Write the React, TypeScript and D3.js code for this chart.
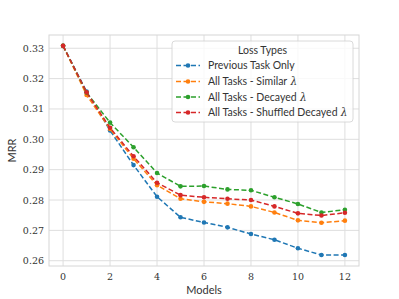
import React from "react";
import * as d3 from "d3";

const models = [0, 1, 2, 3, 4, 5, 6, 7, 8, 9, 10, 11, 12];
const previousTaskOnly = [0.3308, 0.3157, 0.3029, 0.2915, 0.2811, 0.2743, 0.2726, 0.2710, 0.2688, 0.2669, 0.2641, 0.2619, 0.2619];
const allSimilar = [0.3308, 0.3146, 0.3034, 0.2936, 0.2849, 0.2804, 0.2794, 0.2788, 0.2779, 0.2759, 0.2733, 0.2725, 0.2732];
const allDecayed = [0.3308, 0.3154, 0.3055, 0.2974, 0.2889, 0.2845, 0.2846, 0.2835, 0.2832, 0.2809, 0.2787, 0.2759, 0.2768];
const allShuffled = [0.3308, 0.3155, 0.3038, 0.2944, 0.2857, 0.2816, 0.2809, 0.2804, 0.2800, 0.2779, 0.2756, 0.2749, 0.2758];
const seriesNames = ["Previous Task Only", "All Tasks - Similar", "All Tasks - Decayed", "All Tasks - Shuffled Decayed"];
const seriesColors = ["#1f77b4", "#ff7f0e", "#2ca02c", "#d62728"];
const xTicks = [0, 2, 4, 6, 8, 10, 12];
const yTicks = [0.26, 0.27, 0.28, 0.29, 0.30, 0.31, 0.32, 0.33];

export default function App() {
  const W = 399, H = 299;
  const L = 49, R = 359, T = 35, B = 266;
  const x = d3.scaleLinear().domain([-0.6, 12.6]).range([L, R]);
  const y = d3.scaleLinear().domain([0.25826, 0.33437]).range([B, T]);
  const allSeries = [previousTaskOnly, allSimilar, allDecayed, allShuffled];
  const line = d3.line<number>().x((_, i) => x(models[i])).y((d) => y(d));
  const serif = "'DejaVu Serif', 'Liberation Serif', serif";
  const sans = "Lato, 'DejaVu Sans', sans-serif";
  const legX = 172, legY = 41, legW = 181, legH = 81;
  const entryY = [65.5, 81.5, 97, 112.5];
  return (
    <svg width={W} height={H} style={{ position: "absolute", left: 0, top: 0, background: "#fff" }}>
      <rect x={0} y={0} width={W} height={H} fill="#fff" />
      {xTicks.map((t) => (
        <line key={"gx" + t} x1={x(t)} x2={x(t)} y1={T} y2={B} stroke="#dedede" strokeWidth={1} />
      ))}
      {yTicks.map((t) => (
        <line key={"gy" + t} x1={L} x2={R} y1={y(t)} y2={y(t)} stroke="#dedede" strokeWidth={1} />
      ))}
      <rect x={L} y={T} width={R - L} height={B - T} fill="none" stroke="#d6d6d6" strokeWidth={1} />
      {xTicks.map((t) => (
        <text key={"tx" + t} x={x(t)} y={B + 14} textAnchor="middle" fontFamily={serif} fontSize={9.5} fill="#333">{t}</text>
      ))}
      {yTicks.map((t) => (
        <text key={"ty" + t} x={L - 5} y={y(t) + 3.5} textAnchor="end" fontFamily={serif} fontSize={9.5} fill="#333">{t.toFixed(2)}</text>
      ))}
      <text x={(L + R) / 2} y={294} textAnchor="middle" fontFamily={sans} fontSize={11} fill="#333">Models</text>
      <text transform={`translate(16,${(T + B) / 2}) rotate(-90)`} textAnchor="middle" fontFamily={sans} fontSize={11} fill="#333">MRR</text>
      {allSeries.map((s, k) => (
        <g key={"s" + k}>
          <path d={line(s) || ""} fill="none" stroke={seriesColors[k]} strokeWidth={1.5} strokeDasharray="5,2.5" />
          {s.map((v, i) => (
            <circle key={i} cx={x(models[i])} cy={y(v)} r={2.3} fill={seriesColors[k]} />
          ))}
        </g>
      ))}
      <rect x={legX} y={legY} width={legW} height={legH} rx={3} fill="#fff" fillOpacity={0.8} stroke="#d0d0d0" strokeWidth={0.8} />
      <text x={legX + legW / 2} y={legY + 13} textAnchor="middle" fontFamily={sans} fontSize={10.5} fill="#333">Loss Types</text>
      {seriesNames.map((n, k) => (
        <g key={"l" + k}>
          <line x1={176} x2={200} y1={entryY[k]} y2={entryY[k]} stroke={seriesColors[k]} strokeWidth={1.5} strokeDasharray="5,2.5" />
          <circle cx={188} cy={entryY[k]} r={2.3} fill={seriesColors[k]} />
          <text x={208} y={entryY[k] + 3.7} fontFamily={sans} fontSize={10.5} fill="#333">
            {n}
            {k > 0 ? <tspan fontFamily={serif} fontStyle="italic"> λ</tspan> : null}
          </text>
        </g>
      ))}
    </svg>
  );
}
